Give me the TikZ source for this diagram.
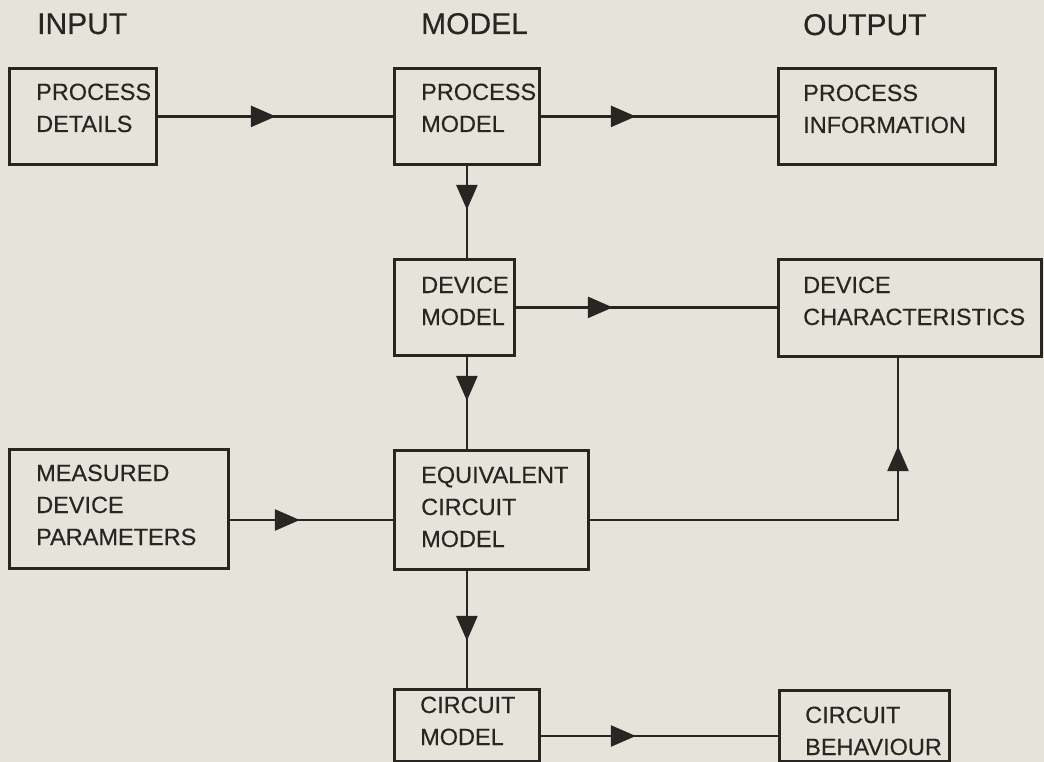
\documentclass[tikz,border=0pt]{standalone}
\usepackage{fontspec}
\setmainfont{Liberation Sans}[FakeBold=0.35]
\usetikzlibrary{arrows.meta,decorations.markings}
\definecolor{bg}{RGB}{228,228,218}
\definecolor{ink}{RGB}{40,38,35}
\newcommand\boxlines[1]{\begin{tabular}[t]{@{}l@{}}#1\end{tabular}}
\tikzset{
  box/.style={draw=ink, line width=2.8pt, rectangle, inner sep=0pt, anchor=north west},
  txt/.style={text=ink, inner sep=0pt, anchor=base west, font=\fontsize{23.5}{32}\selectfont},
  head/.style={text=ink, inner sep=0pt, anchor=base west, font=\fontsize{30}{36}\selectfont},
  conn/.style={draw=ink, line width=2.8pt},
  midarrow/.style={postaction={decorate}, decoration={markings,
      mark=at position #1 with {\arrow[ink]{Triangle[length=25pt,width=21pt]}}}}
}
\begin{document}
\begin{tikzpicture}[x=1pt,y=-1pt]
\fill[bg] (0,0) rectangle (1044,762);
\useasboundingbox (0,0) rectangle (1044,762);

% headings
\node[head] (hin) at (37,34) {INPUT};
\node[head] (hmo) at (421,34) {MODEL};
\node[head] (hout) at (803,35) {OUTPUT};

% boxes
\node[box, minimum width=147pt, minimum height=96pt] (pd) at (8,67) {};
\node[box, minimum width=145pt, minimum height=96pt] (pm) at (393,67) {};
\node[box, minimum width=217pt, minimum height=96pt] (pi) at (777,67) {};
\node[box, minimum width=120pt, minimum height=96pt] (dm) at (393,258) {};
\node[box, minimum width=263pt, minimum height=97pt] (dc) at (777,258) {};
\node[box, minimum width=219pt, minimum height=119pt] (mdp) at (8,448) {};
\node[box, minimum width=194pt, minimum height=119pt] (ecm) at (393,449) {};
\node[box, minimum width=145pt, minimum height=72pt] (cm) at (393,688) {};
\node[box, minimum width=170pt, minimum height=71pt] (cb) at (778,689) {};

% box texts
\node[txt] (pd-t) at (pd.north west) [xshift=28pt, yshift=-33pt] {\boxlines{PROCESS\\DETAILS}};
\node[txt] (pm-t) at (pm.north west) [xshift=28pt, yshift=-33pt] {\boxlines{PROCESS\\MODEL}};
\node[txt] (pi-t) at (pi.north west) [xshift=26pt, yshift=-34pt] {\boxlines{PROCESS\\INFORMATION}};
\node[txt] (dm-t) at (dm.north west) [xshift=28pt, yshift=-35pt] {\boxlines{DEVICE\\MODEL}};
\node[txt] (dc-t) at (dc.north west) [xshift=26pt, yshift=-35pt] {\boxlines{DEVICE\\CHARACTERISTICS}};
\node[txt] (mdp-t) at (mdp.north west) [xshift=28pt, yshift=-33pt] {\boxlines{MEASURED\\DEVICE\\PARAMETERS}};
\node[txt] (ecm-t) at (ecm.north west) [xshift=28pt, yshift=-34pt] {\boxlines{EQUIVALENT\\CIRCUIT\\MODEL}};
\node[txt] (cm-t) at (cm.north west) [xshift=27pt, yshift=-25pt] {\boxlines{CIRCUIT\\MODEL}};
\node[txt] (cb-t) at (cb.north west) [xshift=27pt, yshift=-34pt] {\boxlines{CIRCUIT\\BEHAVIOUR}};

% connectors
\coordinate (r2) at (0,520);
\coordinate (c1) at (898,520);
\coordinate (r4) at (0,736);
\draw[conn, midarrow=118pt] (pd.east) -- (pm.west);
\draw[conn, midarrow=95pt] (pm.east) -- (pm.east -| pi.west);
\draw[conn, midarrow=44pt] (pm.south) -- (pm.south |- dm.north);
\draw[conn, midarrow=97pt] (dm.east) -- (dm.east -| dc.west);
\draw[conn, midarrow=44pt] (pm.south |- dm.south) -- (pm.south |- ecm.north);
\draw[conn, midarrow=70pt] (mdp.east |- r2) -- (ecm.west |- r2);
\draw[conn, midarrow=382pt] (ecm.east |- r2) -- (c1) -- (c1 |- dc.south);
\draw[conn, midarrow=70pt] (cm.north |- ecm.south) -- (cm.north);
\draw[conn, midarrow=95pt] (cm.east |- r4) -- (cb.west |- r4);
\end{tikzpicture}
\end{document}
